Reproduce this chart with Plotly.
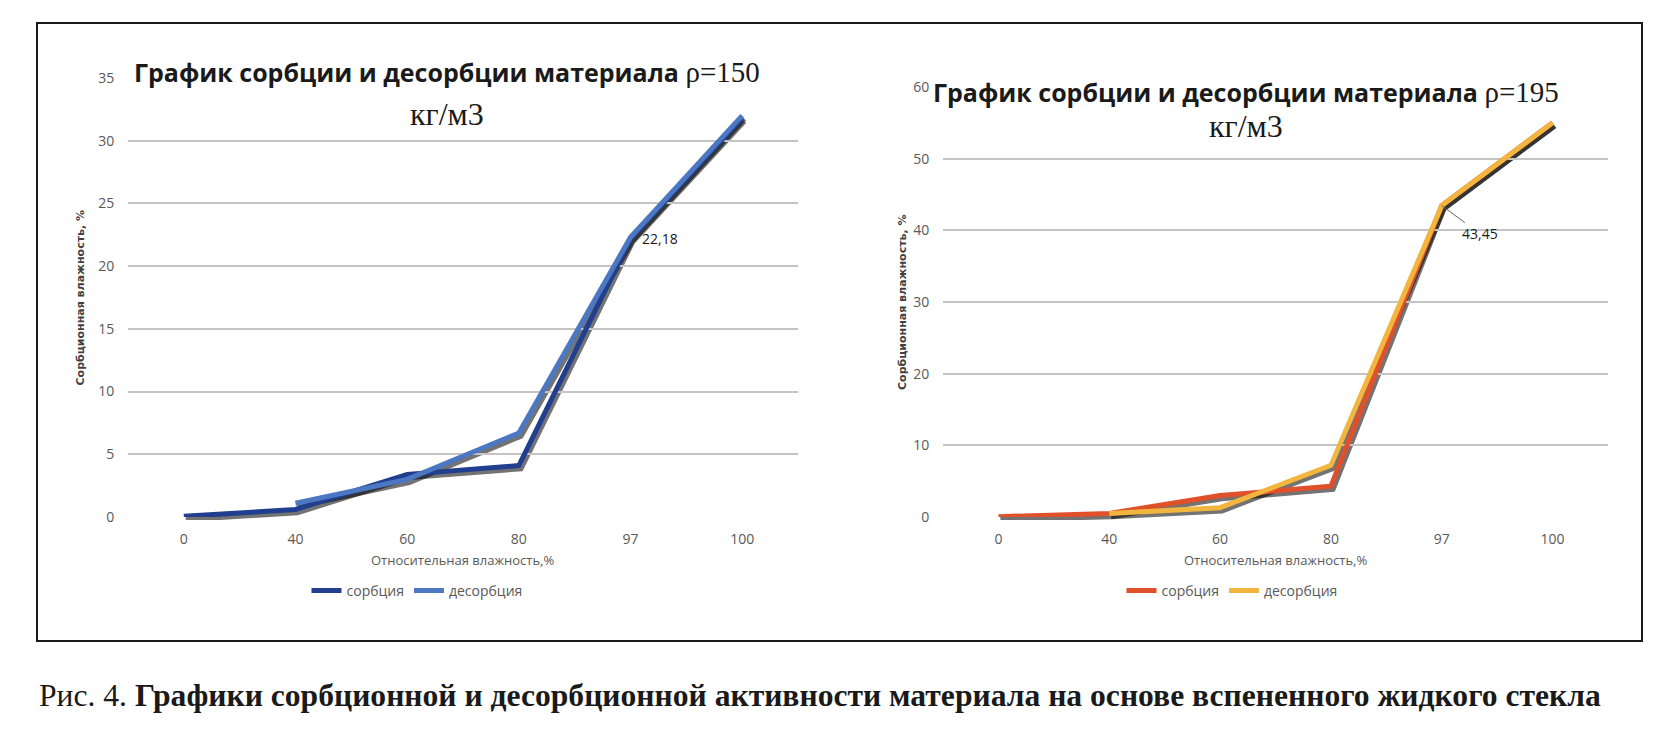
import plotly.graph_objects as go

# Data
humidity = ['0', '40', '60', '80', '97', '100']

sorp_150 = [0.05, 0.6, 3.4, 4.1, 22.18, 31.8]
desorp_150 = [None, 1.1, 3.0, 6.7, 22.3, 32.0]

sorp_195 = [0.05, 0.5, 3.0, 4.3, 43.45, 55.0]
desorp_195 = [None, 0.5, 1.3, 7.2, 43.45, 55.0]

W, H = 1677, 746
OX, OY = 8, 8  # page body margin

# plot areas in screen pixels (left, right, top, bottom)
LEFT_BOX = (128, 798, 78, 517)
RIGHT_BOX = (943, 1608, 87, 517)
SHADOW_DX, SHADOW_DY = 2, 3

TEXT = '#1a1a1a'
TICK = '#595959'
GRID = '#c4c4c4'
SANS = 'Open Sans'
SERIF = 'Liberation Serif'


def px(x):
    return (x - OX) / W


def py(y):
    return 1 - (y - OY) / H


def xdom(box, dx=0):
    return [px(box[0] + dx), px(box[1] + dx)]


def ydom(box, dy=0):
    return [py(box[3] + dy), py(box[2] + dy)]


fig = go.Figure()

charts = [
    (LEFT_BOX, sorp_150, desorp_150, '#213f8e', '#4c77c2', 35, 5),
    (RIGHT_BOX, sorp_195, desorp_195, '#e0502a', '#f2b53e', 60, 10),
]

# shadow subplots first (x/y, x2/y2), visible ones after (x3/y3, x4/y4)
for i, (box, s, d, c1, c2, ymax, dtick) in enumerate(charts):
    sx = 'x' if i == 0 else 'x2'
    sy = 'y' if i == 0 else 'y2'
    for vals in (s, d):
        fig.add_trace(go.Scatter(
            x=humidity, y=vals, mode='lines', xaxis=sx, yaxis=sy,
            line=dict(color='rgba(0,0,0,0.55)', width=5.5),
            showlegend=False, hoverinfo='skip',
        ))

for i, (box, s, d, c1, c2, ymax, dtick) in enumerate(charts):
    vx = 'x3' if i == 0 else 'x4'
    vy = 'y3' if i == 0 else 'y4'
    leg = 'legend' if i == 0 else 'legend2'
    fig.add_trace(go.Scatter(
        x=humidity, y=s, mode='lines', name='сорбция', xaxis=vx, yaxis=vy,
        line=dict(color=c1, width=5), legend=leg,
    ))
    fig.add_trace(go.Scatter(
        x=humidity, y=d, mode='lines', name='десорбция', xaxis=vx, yaxis=vy,
        line=dict(color=c2, width=5), legend=leg,
    ))

axis_common = dict(type='category', range=[-0.5, 5.5], showgrid=False,
                   zeroline=False, showline=False, fixedrange=True)

layout_axes = {}
for i, (box, s, d, c1, c2, ymax, dtick) in enumerate(charts):
    sx, sy = ('xaxis', 'yaxis') if i == 0 else ('xaxis2', 'yaxis2')
    vx, vy = ('xaxis3', 'yaxis3') if i == 0 else ('xaxis4', 'yaxis4')
    sxa = 'y' if i == 0 else 'y2'
    sya = 'x' if i == 0 else 'x2'
    vxa = 'y3' if i == 0 else 'y4'
    vya = 'x3' if i == 0 else 'x4'
    layout_axes[sx] = dict(axis_common, domain=xdom(box, SHADOW_DX), anchor=sxa,
                           showticklabels=False)
    layout_axes[sy] = dict(domain=ydom(box, SHADOW_DY), anchor=sya, range=[0, ymax],
                           showgrid=False, zeroline=False, showticklabels=False,
                           fixedrange=True)
    layout_axes[vx] = dict(axis_common, domain=xdom(box), anchor=vxa,
                           ticks='outside', ticklen=9, tickcolor='rgba(0,0,0,0)',
                           tickfont=dict(family=SANS, size=14, color=TICK))
    layout_axes[vy] = dict(domain=ydom(box), anchor=vya, range=[0, ymax], dtick=dtick,
                           showgrid=True, gridcolor=GRID, gridwidth=2,
                           zeroline=False, showline=False, fixedrange=True,
                           ticks='outside', ticklen=10, tickcolor='rgba(0,0,0,0)',
                           tickfont=dict(family=SANS, size=14, color=TICK))

annotations = []

def title_lines(cx, y1, y2, rho):
    annotations.append(dict(
        text='<b>График сорбции и десорбции материала </b>'
             f'<span style="font-family:\'{SERIF}\';font-size:29px">ρ=' + rho + '</span>',
        x=px(cx), y=py(y1), xref='paper', yref='paper', showarrow=False,
        xanchor='center', yanchor='middle',
        font=dict(family=SANS, size=25, color=TEXT),
    ))
    annotations.append(dict(
        text='кг/м3', x=px(cx), y=py(y2), xref='paper', yref='paper',
        showarrow=False, xanchor='center', yanchor='middle',
        font=dict(family=SERIF, size=32, color=TEXT),
    ))

title_lines(447, 72, 114, '150')
title_lines(1246, 92, 126, '195')

for box, ytx in ((LEFT_BOX, 80), (RIGHT_BOX, 902)):
    annotations.append(dict(
        text='Относительная влажность,%', x=px((box[0] + box[1]) / 2), y=py(560),
        xref='paper', yref='paper', showarrow=False, xanchor='center', yanchor='middle',
        font=dict(family=SANS, size=13, color=TICK),
    ))
    annotations.append(dict(
        text='<b>Сорбционная влажность, %</b>', x=px(ytx),
        y=py((box[2] + box[3]) / 2), xref='paper', yref='paper', showarrow=False,
        textangle=-90, xanchor='center', yanchor='middle',
        font=dict(family='DejaVu Sans', size=11, color='#404040'),
    ))

# data labels at the 97 % point (category index)
i97 = humidity.index('97')
annotations.append(dict(
    text='22,18', x=i97, y=sorp_150[i97], xref='x3', yref='y3', showarrow=False,
    xanchor='left', yanchor='middle', xshift=9,
    font=dict(family=SANS, size=14, color=TEXT),
))
annotations.append(dict(
    text='43,45', x=i97, y=sorp_195[i97], xref='x4', yref='y4', showarrow=True,
    arrowhead=0, arrowwidth=1, arrowcolor='#666666', ax=38, ay=28,
    font=dict(family=SANS, size=14, color=TEXT),
))

# caption
annotations.append(dict(
    text='Рис. 4. <b>Графики сорбционной и десорбционной активности материала '
         'на основе вспененного жидкого стекла</b>',
    x=px(37), y=py(695), xref='paper', yref='paper', showarrow=False,
    xanchor='left', yanchor='middle',
    font=dict(family=SERIF, size=31.6, color=TEXT),
))

fig.update_layout(
    width=W, height=H,
    margin=dict(l=0, r=0, t=0, b=0, autoexpand=False),
    paper_bgcolor='white', plot_bgcolor='rgba(0,0,0,0)',
    annotations=annotations,
    shapes=[dict(type='rect', xref='paper', yref='paper',
                 x0=px(37), x1=px(1642), y0=py(641), y1=py(23),
                 line=dict(color='#1a1a1a', width=2))],
    legend=dict(orientation='h', x=px(417), y=py(591), xanchor='center',
                yanchor='middle', font=dict(family=SANS, size=14, color=TICK),
                bgcolor='rgba(0,0,0,0)', itemwidth=30),
    legend2=dict(orientation='h', x=px(1232), y=py(591), xanchor='center',
                 yanchor='middle', font=dict(family=SANS, size=14, color=TICK),
                 bgcolor='rgba(0,0,0,0)', itemwidth=30),
    **layout_axes,
)

fig.write_html("out.html")
